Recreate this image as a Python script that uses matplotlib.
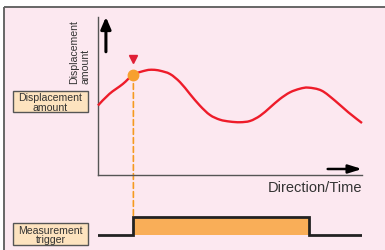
import matplotlib
matplotlib.use("Agg")
import matplotlib.pyplot as plt
import numpy as np
from matplotlib.patches import Rectangle, ConnectionPatch, PathPatch
from matplotlib.path import Path

plt.rcParams['font.family'] = ['Liberation Sans', 'DejaVu Sans']

# ---- data ----
time = [0.0, 0.43, 0.94, 1.34, 1.82, 2.08, 2.35, 2.73, 3.11, 3.48, 3.86, 4.24,
        4.62, 5.0, 5.38, 5.76, 6.14, 6.52, 6.89, 7.27, 7.65, 7.97, 8.47, 8.98,
        9.48, 10.0]
displacement = [4.40, 5.13, 5.76, 6.35, 6.62, 6.66, 6.60, 6.39, 5.87, 5.13, 4.39, 3.80,
                3.50, 3.38, 3.34, 3.42, 3.75, 4.28, 4.81, 5.23, 5.46, 5.53, 5.34, 4.70,
                3.97, 3.29]
trigger_time = [0.0, 1.34, 7.99, 10.0]
trigger_level = [0, 1, 0, 0]
measure_time = 1.34
measure_value = 6.35

y_label = "Displacement\namount"
x_label = "Direction/Time"
box_labels = ["Displacement\namount", "Measurement\ntrigger"]

# ---- colours ----
PINK = '#FCE8F0'
BORDER = '#666666'
AXIS = '#555555'
TEXT = '#333333'
RED = '#EE1C2A'
ORANGE = '#F7A02E'
FILL = '#F9AE58'
BOX = '#FDE3BF'

W, H = 385, 251
fig = plt.figure(figsize=(W / 100, H / 100), dpi=100)
fig.patch.set_facecolor('white')

# background layer in pixel space
bg = fig.add_axes([0, 0, 1, 1])
bg.set_xlim(0, W)
bg.set_ylim(H, 0)
bg.axis('off')
bg.add_patch(Rectangle((4, 8), W, H, facecolor=PINK, edgecolor='none'))
bg.plot([4, W], [8, 8], color=BORDER, lw=1.4, solid_capstyle='butt')
bg.plot([4, 4], [8, H], color=BORDER, lw=1.4, solid_capstyle='butt')

for (y0, y1), lab in zip([(92, 113), (224, 246)], box_labels):
    bg.add_patch(Rectangle((13, y0), 75, y1 - y0, facecolor=BOX,
                           edgecolor=AXIS, lw=1.0))
    bg.text(50.5, (y0 + y1) / 2 + 0.5, lab, ha='center', va='center',
            fontsize=7.6, color=TEXT, linespacing=0.95)

# main chart axes
ax = fig.add_axes([98 / W, (H - 176) / H, 264 / W, 158 / H])
ax.set_xlim(0, 10)
ax.set_ylim(0, 10)
ax.patch.set_alpha(0)
for s in ['top', 'right']:
    ax.spines[s].set_visible(False)
for s in ['left', 'bottom']:
    ax.spines[s].set_color(AXIS)
    ax.spines[s].set_linewidth(1.0)
ax.set_xticks([])
ax.set_yticks([])

# smooth curve through the read points (Catmull-Rom -> cubic Bezier path)
P = np.column_stack([time, displacement])
Pp = np.vstack([P[0], P, P[-1]])
verts = [P[0]]
codes = [Path.MOVETO]
for i in range(len(P) - 1):
    p0, p1, p2, p3 = Pp[i], Pp[i + 1], Pp[i + 2], Pp[i + 3]
    verts += [p1 + (p2 - p0) / 6, p2 - (p3 - p1) / 6, p2]
    codes += [Path.CURVE4] * 3
ax.add_patch(PathPatch(Path(verts, codes), facecolor='none', edgecolor=RED,
                       lw=1.7, zorder=3, clip_on=False, capstyle='butt'))

ax.plot([measure_time], [measure_value], 'o', color=ORANGE, ms=7.5,
        mec=ORANGE, zorder=5, clip_on=False)
ax.plot([measure_time], [measure_value + 1.0], 'v', color='#E01F36', ms=5.5,
        zorder=5, clip_on=False)

# axis arrows
ax.annotate('', xy=(0.03, 1.0), xytext=(0.03, 0.78), xycoords='axes fraction',
            arrowprops=dict(arrowstyle='-|>,head_length=0.7,head_width=0.3',
                            lw=2.2, color='black', shrinkA=0, shrinkB=0))
ax.annotate('', xy=(1.0, 0.038), xytext=(0.87, 0.038), xycoords='axes fraction',
            arrowprops=dict(arrowstyle='-|>,head_length=0.8,head_width=0.25',
                            lw=1.8, color='black', shrinkA=0, shrinkB=0))

ax.text(1.0, -0.075, x_label, transform=ax.transAxes, ha='right', va='center',
        fontsize=10.5, color=TEXT)
ax.text(-0.069, 0.58, y_label, transform=ax.transAxes, rotation=90,
        ha='center', va='bottom', multialignment='left', fontsize=7.6,
        color=TEXT, linespacing=1.15)

# trigger axes
ax2 = fig.add_axes([98 / W, (H - 240) / H, 264 / W, 26 / H])
ax2.set_xlim(0, 10)
ax2.set_ylim(-4 / 18, 1 + 4 / 18)
ax2.axis('off')
ax2.fill_between(trigger_time, 0, trigger_level, step='post', color=FILL,
                 lw=0, zorder=1)
ax2.step(trigger_time, trigger_level, where='post', color='#222222', lw=2.0,
         zorder=2, solid_joinstyle='miter')

con = ConnectionPatch(xyA=(measure_time, measure_value), coordsA=ax.transData,
                      xyB=(measure_time, 1), coordsB=ax2.transData,
                      color='#F59A20', lw=1.2, linestyle=(0, (3.4, 2.0)), zorder=2)
fig.add_artist(con)
# keep marker over dashed line
ax.set_zorder(3)

fig.savefig('out.png', dpi=100)
